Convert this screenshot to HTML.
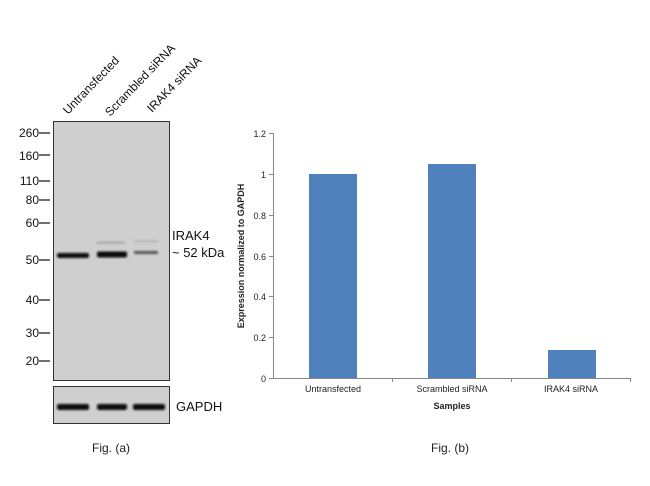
<!DOCTYPE html>
<html><head><style>
body{margin:0;background:#fff;}
svg text{font-family:"Liberation Sans",Arial,sans-serif;}
</style></head><body>
<svg width="650" height="481" xmlns="http://www.w3.org/2000/svg">
<defs><filter id="b"><feGaussianBlur stdDeviation="1"/></filter></defs>
<!-- blot -->
<g font-size="12" fill="#111">
<text transform="translate(68,115) rotate(-46)">Untransfected</text>
<text transform="translate(110,117) rotate(-46)">Scrambled siRNA</text>
<text transform="translate(152,113) rotate(-46)">IRAK4 siRNA</text>
</g>
<rect x="53.5" y="121.5" width="116" height="259" fill="#cfcfcf" stroke="#333" stroke-width="1"/>
<rect x="53.5" y="386.5" width="116" height="37" fill="#cfcfcf" stroke="#333" stroke-width="1"/>
<g filter="url(#b)">
<rect x="57" y="253" width="32" height="5" rx="2" fill="#111"/>
<rect x="97" y="251.5" width="30" height="6" rx="2" fill="#111"/>
<rect x="134" y="251" width="24" height="3" rx="1" fill="#555"/>
<rect x="97" y="242" width="28" height="1.5" fill="#999"/>
<rect x="134" y="240.5" width="24" height="1.5" fill="#aaa"/>
<rect x="57" y="404" width="32" height="6" rx="2" fill="#111"/>
<rect x="97" y="404" width="30" height="6" rx="2" fill="#111"/>
<rect x="133" y="404" width="32" height="6" rx="2" fill="#111"/>
</g>
<g font-size="12" fill="#111" text-anchor="end">
<text x="39" y="137">260</text><text x="39" y="160">160</text><text x="39" y="185">110</text>
<text x="39" y="204">80</text><text x="39" y="227">60</text><text x="39" y="264">50</text>
<text x="39" y="304">40</text><text x="39" y="337">30</text><text x="39" y="365">20</text>
</g>
<g stroke="#111" stroke-width="1.2">
<line x1="39" y1="133" x2="50" y2="133"/><line x1="39" y1="155" x2="50" y2="155"/>
<line x1="39" y1="181" x2="50" y2="181"/><line x1="39" y1="200" x2="50" y2="200"/>
<line x1="39" y1="223" x2="50" y2="223"/><line x1="39" y1="260" x2="50" y2="260"/>
<line x1="39" y1="300" x2="50" y2="300"/><line x1="39" y1="333" x2="50" y2="333"/>
<line x1="39" y1="361" x2="50" y2="361"/>
</g>
<text x="172" y="240" font-size="13" fill="#111">IRAK4</text>
<text x="172" y="257" font-size="13" fill="#111">~ 52 kDa</text>
<text x="176" y="411" font-size="13" fill="#111">GAPDH</text>
<text x="111" y="452" font-size="12" fill="#222" text-anchor="middle">Fig. (a)</text>
<!-- bar chart -->
<g stroke="#888" stroke-width="1">
<line x1="273.5" y1="133" x2="273.5" y2="378"/>
<line x1="273" y1="378.5" x2="630" y2="378.5"/>
<line x1="269" y1="133.5" x2="273" y2="133.5"/><line x1="269" y1="174.5" x2="273" y2="174.5"/>
<line x1="269" y1="215.5" x2="273" y2="215.5"/><line x1="269" y1="256.5" x2="273" y2="256.5"/>
<line x1="269" y1="296.5" x2="273" y2="296.5"/><line x1="269" y1="337.5" x2="273" y2="337.5"/>
<line x1="269" y1="378.5" x2="273" y2="378.5"/>
<line x1="392.5" y1="378" x2="392.5" y2="382"/><line x1="511.5" y1="378" x2="511.5" y2="382"/><line x1="630.5" y1="378" x2="630.5" y2="382"/>
</g>
<g font-size="9" fill="#222" text-anchor="end">
<text x="266" y="137">1.2</text><text x="266" y="178">1</text><text x="266" y="219">0.8</text>
<text x="266" y="260">0.6</text><text x="266" y="300">0.4</text><text x="266" y="341">0.2</text>
<text x="266" y="382">0</text>
</g>
<g fill="#4f81bd">
<rect x="309" y="174" width="48" height="204"/>
<rect x="428" y="164" width="48" height="214"/>
<rect x="548" y="350" width="48" height="28"/>
</g>
<g font-size="9" fill="#222" text-anchor="middle">
<text x="333" y="392">Untransfected</text>
<text x="452" y="392">Scrambled siRNA</text>
<text x="571" y="392">IRAK4 siRNA</text>
</g>
<text x="452" y="409" font-size="9" font-weight="bold" fill="#222" text-anchor="middle">Samples</text>
<text transform="translate(244,256) rotate(-90)" font-size="9" font-weight="bold" fill="#222" text-anchor="middle">Expression  normalized to GAPDH</text>
<text x="450" y="452" font-size="12" fill="#222" text-anchor="middle">Fig. (b)</text>
</svg>
</body></html>
